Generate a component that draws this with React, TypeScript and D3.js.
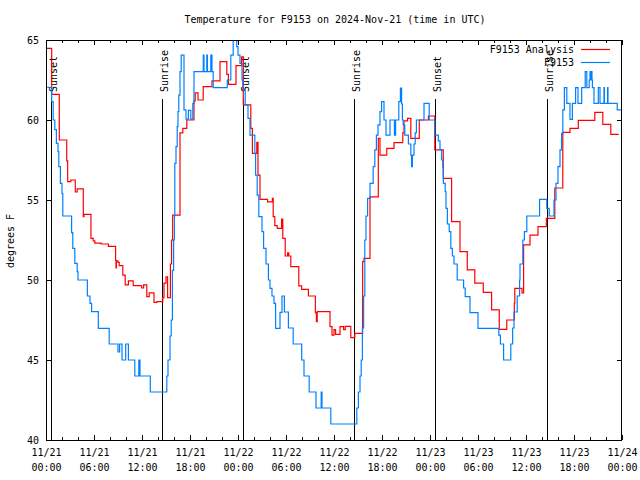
import React from "react";
import * as d3 from "d3";

const START = Date.UTC(2024, 10, 21, 0, 0);
const TITLE = "Temperature for F9153 on 2024-Nov-21 (time in UTC)";
const Y_LABEL = "degrees F";

const seriesNames = ["F9153 Analysis", "F9153"];
const seriesColors = ["#ff0000", "#0080ff"];

// hours since 2024-11-21 00:00 UTC
const analysisHours = [
  0, 0.71, 1.66, 2.59, 2.71, 3.1, 3.66, 3.9, 4.66, 4.75, 5.62, 5.9, 6.1, 6.9, 7.8, 8.7, 8.75, 8.8, 9.0, 9.15,
  9.6, 9.9, 10.3, 10.9, 11.95, 12.2, 12.6, 12.9, 13.5, 13.85, 14.6, 14.75, 15.0, 15.2, 15.55, 15.7, 15.83, 16.75,
  17.1, 17.6, 18.5, 18.65, 19.0, 19.65, 20.75, 21.75, 22.6, 22.8, 23.75, 24.45, 24.66, 25.6, 25.8, 26.35, 26.5,
  26.75, 27.7, 28.3, 28.4, 28.6, 28.9, 29.45, 29.6, 29.9, 30.2, 30.35, 30.6, 31.6, 31.96, 32.8, 33.67, 33.8, 33.9,
  35.5, 35.75, 36.0, 36.2, 36.75, 37.2, 37.4, 38.1, 38.6, 39.58, 39.75, 40.5, 41.54, 41.75, 42.6, 43.5, 44.6,
  44.75, 45.2, 45.6, 46.66, 47.8, 48.6, 49.66, 50.7, 51.75, 52.66, 53.6, 54.66, 55.7, 56.66, 57.6, 58.54, 58.6,
  59.5, 59.7, 60.5, 61.5, 62.54, 63.6, 64.6, 65.5, 66.54, 68.6, 69.6, 70.6, 71.6,
];
const analysisTemps = [
  64.48, 61.6, 58.75, 57.44, 56.15, 56.25, 55.5, 55.7, 53.96, 54.1, 52.6, 52.45, 52.3, 52.25, 52.1, 51.25, 50.75,
  51.2, 51.1, 50.9, 50.3, 49.7, 49.94, 49.65, 49.5, 49.7, 48.96, 49.2, 48.6, 48.65, 48.9, 49.8, 50.2, 48.9, 51.0,
  52.5, 54.06, 59.2, 59.48, 60.0, 61.2, 61.7, 61.25, 62.08, 62.44, 63.65, 62.85, 62.23, 63.4, 63.95, 60.94, 59.48,
  57.92, 58.6, 56.56, 55.04, 54.88, 55.1, 53.96, 53.4, 53.23, 53.8, 52.6, 51.5, 51.7, 51.5, 50.83, 49.63, 49.42,
  49.0, 47.96, 47.4, 48.02, 47.08, 46.56, 46.9, 46.6, 47.08, 46.9, 47.1, 46.4, 46.67, 51.15, 51.35, 55.2, 58.85,
  57.81, 58.23, 58.58, 59.2, 59.95, 60.1, 58.85, 60.0, 60.25, 58.13, 56.35, 53.65, 51.77, 50.63, 49.8, 49.23,
  48.13, 46.92, 47.5, 48.56, 49.48, 49.2, 52.19, 52.81, 53.33, 53.85, 55.75, 59.23, 59.48, 59.98, 60.48, 59.73,
  59.1, 59.1,
];

const obsHours = [
  0.15, 0.71, 0.9, 1.1, 1.3, 1.5, 1.6, 1.8, 2.0, 2.1, 3.2, 3.35, 3.6, 3.9, 4.0, 5.17, 5.5, 5.7, 6.54, 7.9, 9.0,
  9.2, 9.5, 9.96, 10.3, 11.1, 11.6, 11.75, 13.04, 15.1, 15.25, 15.5, 15.65, 15.8, 15.95, 16.05, 16.1, 16.25,
  16.4, 16.5, 16.6, 16.75, 16.9, 17.25, 17.5, 17.8, 18.1, 18.35, 18.5, 19.66, 19.75, 20.1, 20.18, 20.6, 20.75,
  20.9, 22.66, 23.1, 23.4, 23.84, 24.0, 24.25, 24.5, 24.6, 24.9, 25.25, 25.5, 26.1, 26.2, 26.4, 26.6, 27.0, 27.2,
  27.5, 27.8, 28.0, 28.25, 28.5, 28.7, 29.25, 29.5, 29.8, 30.3, 30.9, 31.96, 32.25, 32.9, 33.75, 34.4, 34.5,
  35.6, 38.85, 39.05, 39.25, 39.4, 39.55, 39.7, 39.85, 40.0, 40.2, 40.5, 40.9, 41.1, 41.3, 41.5, 41.75, 41.95,
  42.25, 42.5, 43.0, 43.55, 43.7, 44.1, 44.3, 44.45, 44.55, 44.65, 44.85, 45.3, 45.6, 45.7, 45.8, 46.0, 46.15,
  46.3, 47.25, 47.9, 48.6, 49.04, 49.25, 49.46, 49.6, 49.67, 49.9, 50.0, 50.17, 50.4, 50.6, 50.8, 51.0, 51.4,
  52.2, 52.4, 53.0, 54.0, 56.6, 56.8, 57.2, 58.1, 58.33, 58.5, 58.9, 59.2, 59.25, 59.6, 59.8, 60.1, 61.7, 62.6,
  62.9, 63.5, 63.75, 64.0, 64.25, 64.45, 64.6, 64.8, 65.1, 65.5, 65.8, 66.2, 66.5, 66.96, 67.4, 67.6, 67.9, 68.0,
  68.05, 68.2, 68.25, 68.3, 68.5, 69.04, 69.25, 69.75, 69.8, 70.2, 70.25, 71.25, 71.4, 71.96,
];
const obsTemps = [
  62.04, 61.15, 60.0, 59.4, 58.54, 58.02, 57.08, 56.04, 55.4, 54.0, 52.96, 51.98, 51.04, 50.52, 50.0, 49.0, 48.54,
  48.02, 46.98, 46.0, 45.5, 46.0, 45.0, 46.0, 45.0, 44.0, 45.0, 44.0, 43.0, 44.0, 45.0, 46.5, 47.5, 50.6, 52.5,
  54.0, 57.29, 58.33, 59.58, 60.52, 61.56, 63.02, 64.06, 60.63, 60.06, 60.6, 60.06, 61.04, 63.02, 64.06, 63.02,
  64.06, 63.02, 64.06, 63.02, 62.02, 62.5, 64.06, 65.5, 64.58, 64.06, 63.54, 62.5, 61.875, 60.94, 60.1, 59.06,
  57.9, 56.56, 55.3, 53.96, 53.02, 51.98, 51.0, 50.0, 49.48, 49.0, 48.54, 46.98, 47.98, 49.0, 48.0, 47.0, 46.0,
  45.0, 44.0, 43.0, 42.0, 43.0, 42.0, 41.0, 42.0, 43.0, 44.0, 45.0, 47.0, 49.0, 52.5, 54.0, 55.1, 56.04, 57.08,
  58.13, 59.06, 59.69, 60.52, 61.15, 60.0, 59.06, 60.0, 59.06, 60.0, 61.15, 62.0, 61.0, 60.0, 59.7, 59.06, 58.5,
  57.81, 57.08, 57.81, 58.5, 59.2, 60.0, 61.04, 60.0, 59.06, 58.7, 58.13, 57.5, 57.0, 56.04, 55.52, 54.48, 53.5,
  53.02, 51.98, 51.5, 51.0, 50.0, 49.5, 48.96, 47.96, 46.98, 46.56, 46.0, 45.0, 46.0, 47.0, 48.0, 49.0, 50.0,
  51.0, 52.5, 53.02, 54.0, 55.04, 54.48, 54.0, 55.0, 56.04, 57.08, 58.13, 59.17, 60.63, 62.02, 61.04, 60.04,
  61.04, 62.02, 61.04, 62.02, 63.02, 62.02, 62.5, 63.02, 62.5, 63.02, 62.5, 62.02, 61.04, 62.02, 61.04, 62.02,
  61.04, 62.02, 61.04, 61.04, 60.63, 60.04, 60.04,
];

const sunLabels = ["Sunset", "Sunrise", "Sunset", "Sunrise", "Sunset", "Sunrise"];
const sunHours = [0.66, 14.54, 24.66, 38.54, 48.66, 62.58];

const yTicks = [40, 45, 50, 55, 60, 65];

const FONT = "'DejaVu Sans Mono', monospace";
const W = 640;
const H = 480;
const M = { left: 46, right: 622, top: 40, bottom: 440 };

const toDate = (h: number) => new Date(START + h * 3600 * 1000);

export default function App() {
  const x = d3.scaleUtc().domain([toDate(0), toDate(72)]).range([M.left, M.right]);
  const y = d3.scaleLinear().domain([40, 65]).range([M.bottom, M.top]);

  const line = d3
    .line<[number, number]>()
    .x((d) => x(toDate(d[0])))
    .y((d) => y(d[1]))
    .curve(d3.curveStepAfter);

  const analysis = analysisHours.map((h, i) => [h, analysisTemps[i]] as [number, number]);
  const obs = obsHours.map((h, i) => [h, obsTemps[i]] as [number, number]);

  const majorTicks = d3.utcHour.every(6)!.range(toDate(0), toDate(72.01));
  const minorTicks = d3.utcHour
    .every(2)!
    .range(toDate(0), toDate(72.01))
    .filter((d) => d.getUTCHours() % 6 !== 0);
  const fmtDay = d3.utcFormat("%m/%d");
  const fmtTime = d3.utcFormat("%H:%M");

  return (
    <svg
      width={W}
      height={H}
      style={{ position: "absolute", left: 0, top: 0, background: "#fff" }}
      fontFamily={FONT}
      fontSize={10}
    >
      <rect x={0} y={0} width={W} height={H} fill="#fff" />
      <defs>
        <clipPath id="plotclip">
          <rect x={M.left} y={M.top} width={M.right - M.left} height={M.bottom - M.top} />
        </clipPath>
      </defs>

      <text x={335} y={23} textAnchor="middle" fill="#000">
        {TITLE}
      </text>

      {/* sunrise / sunset markers */}
      {sunHours.map((h, i) => {
        const sx = Math.round(x(toDate(h))) + 0.5;
        return (
          <g key={"sun" + i}>
            <line x1={sx} x2={sx} y1={99} y2={M.bottom} stroke="#000" strokeWidth={1} />
            <text transform={`translate(${sx + 5},92) rotate(-90)`} textAnchor="start" fill="#000">
              {sunLabels[i]}
            </text>
          </g>
        );
      })}

      {/* data */}
      <g clipPath="url(#plotclip)">
        <path d={line(analysis) || ""} fill="none" stroke={seriesColors[0]} strokeWidth={1.2} />
        <path d={line(obs) || ""} fill="none" stroke={seriesColors[1]} strokeWidth={1.2} />
      </g>

      {/* border */}
      <rect
        x={M.left + 0.5}
        y={M.top + 0.5}
        width={M.right - M.left - 1}
        height={M.bottom - M.top}
        fill="none"
        stroke="#000"
        strokeWidth={1}
      />

      {/* x ticks */}
      {majorTicks.map((d, i) => {
        const tx = Math.round(x(d)) + 0.5;
        return (
          <g key={"xm" + i}>
            <line x1={tx} x2={tx} y1={M.bottom} y2={M.bottom - 5} stroke="#000" />
            <line x1={tx} x2={tx} y1={M.top} y2={M.top + 5} stroke="#000" />
            <text x={tx} y={456} textAnchor="middle" fill="#000">
              {fmtDay(d)}
            </text>
            <text x={tx} y={471} textAnchor="middle" fill="#000">
              {fmtTime(d)}
            </text>
          </g>
        );
      })}
      {minorTicks.map((d, i) => {
        const tx = Math.round(x(d)) + 0.5;
        return (
          <g key={"xn" + i}>
            <line x1={tx} x2={tx} y1={M.bottom} y2={M.bottom - 3} stroke="#000" />
            <line x1={tx} x2={tx} y1={M.top} y2={M.top + 3} stroke="#000" />
          </g>
        );
      })}

      {/* y ticks */}
      {yTicks.map((v, i) => {
        const ty = Math.round(y(v)) + 0.5;
        return (
          <g key={"y" + i}>
            <line x1={M.left} x2={M.left + 5} y1={ty} y2={ty} stroke="#000" />
            <line x1={M.right} x2={M.right - 5} y1={ty} y2={ty} stroke="#000" />
            <text x={39} y={ty + 3.5} textAnchor="end" fill="#000">
              {v}
            </text>
          </g>
        );
      })}

      <text transform="translate(14,241) rotate(-90)" textAnchor="middle" fill="#000">
        {Y_LABEL}
      </text>

      {/* legend */}
      {seriesNames.map((name, i) => {
        const ly = 49.5 + i * 13;
        return (
          <g key={"lg" + i}>
            <text x={574} y={ly + 3.5} textAnchor="end" fill="#000">
              {name}
            </text>
            <line x1={581} x2={610} y1={ly} y2={ly} stroke={seriesColors[i]} strokeWidth={1.2} />
          </g>
        );
      })}
    </svg>
  );
}
